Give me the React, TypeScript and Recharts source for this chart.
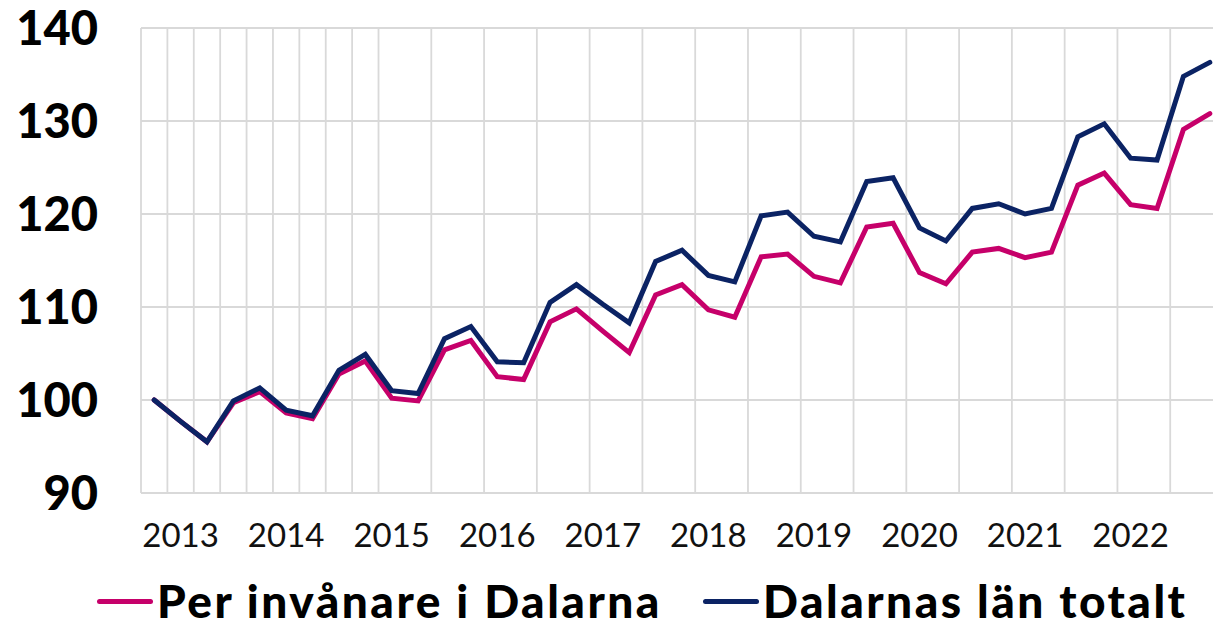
import React from "react";
import { LineChart, Line, XAxis, YAxis, CartesianGrid } from "recharts";

// quarters shown on the x axis (one point per quarter)
const quarters = [
  "2012 K4",
  "2013 K1", "2013 K2", "2013 K3", "2013 K4",
  "2014 K1", "2014 K2", "2014 K3", "2014 K4",
  "2015 K1", "2015 K2", "2015 K3", "2015 K4",
  "2016 K1", "2016 K2", "2016 K3", "2016 K4",
  "2017 K1", "2017 K2", "2017 K3", "2017 K4",
  "2018 K1", "2018 K2", "2018 K3", "2018 K4",
  "2019 K1", "2019 K2", "2019 K3", "2019 K4",
  "2020 K1", "2020 K2", "2020 K3", "2020 K4",
  "2021 K1", "2021 K2", "2021 K3", "2021 K4",
  "2022 K1", "2022 K2", "2022 K3", "2022 K4",
];

const years = ["2013", "2014", "2015", "2016", "2017", "2018", "2019", "2020", "2021", "2022"];

// index, 100 = start
const perInvanare = [
  100, 97.7, 95.5, 99.7, 100.9, 98.6, 98.0, 102.8, 104.2, 100.2,
  99.9, 105.4, 106.4, 102.5, 102.2, 108.4, 109.8, 107.4, 105.1, 111.3,
  112.4, 109.7, 108.9, 115.4, 115.7, 113.3, 112.6, 118.6, 119.0, 113.7,
  112.5, 115.9, 116.3, 115.3, 115.9, 123.1, 124.4, 121.0, 120.6, 129.1,
  130.8,
];

const lanTotalt = [
  100, 97.7, 95.5, 99.9, 101.3, 98.9, 98.3, 103.2, 104.9, 101.0,
  100.7, 106.6, 107.9, 104.1, 104.0, 110.5, 112.4, 110.3, 108.3, 114.9,
  116.1, 113.4, 112.7, 119.8, 120.2, 117.6, 117.0, 123.5, 123.9, 118.5,
  117.1, 120.6, 121.1, 120.0, 120.6, 128.3, 129.7, 126.0, 125.8, 134.8,
  136.3,
];

const yTicks = [90, 100, 110, 120, 130, 140];

const PINK = "#c6006a";
const NAVY = "#0b2364";

const data = quarters.map((q, i) => ({
  idx: i,
  quarter: q,
  per: perInvanare[i],
  total: lanTotalt[i],
}));

// year label sits on the second point of each group of four
const yearTicks = years.map((_, k) => 1 + 4 * k);
// grid lines go between the quarters
const bandEdges = quarters.map((_, i) => i - 0.5).concat([quarters.length - 0.5]);

const legendItems = [
  { name: "Per invånare i Dalarna", color: PINK, left: 97 },
  { name: "Dalarnas län totalt", color: NAVY, left: 703 },
];

export default function App() {
  return (
    <div
      style={{
        position: "absolute",
        left: 0,
        top: 0,
        width: 1213,
        height: 630,
        overflow: "hidden",
        background: "#fff",
      }}
    >
      <LineChart
        width={1230}
        height={630}
        data={data}
        margin={{ top: 28, right: 7, bottom: 0, left: 0 }}
      >
        <CartesianGrid
          xAxisId="grid"
          stroke="#d9d9d9"
          strokeWidth={1.8}
          vertical
          horizontal
        />
        <XAxis
          xAxisId="grid"
          dataKey="idx"
          type="number"
          domain={[-0.5, quarters.length - 0.5]}
          ticks={bandEdges}
          allowDataOverflow
          hide
        />
        <XAxis
          dataKey="idx"
          type="number"
          domain={[-0.5, quarters.length - 0.5]}
          ticks={yearTicks}
          tickFormatter={(v: number) => years[(v - 1) / 4]}
          allowDataOverflow
          interval={0}
          height={137}
          axisLine={false}
          tickLine={false}
          tickSize={0}
          tickMargin={31}
          tick={{ fontFamily: "Lato", fontSize: 33, fill: "#111" }}
        />
        <YAxis
          domain={[90, 140]}
          ticks={yTicks}
          width={141}
          axisLine={false}
          tickLine={false}
          tickSize={0}
          tickMargin={43}
          tick={{ fontFamily: "Lato", fontSize: 47, fontWeight: 900, fill: "#000" }}
        />
        <Line
          dataKey="per"
          stroke={PINK}
          strokeWidth={5}
          dot={false}
          strokeLinecap="round"
          isAnimationActive={false}
        />
        <Line
          dataKey="total"
          stroke={NAVY}
          strokeWidth={5}
          dot={false}
          strokeLinecap="round"
          isAnimationActive={false}
        />
      </LineChart>
      {legendItems.map((item) => (
        <div
          key={item.name}
          style={{
            position: "absolute",
            left: item.left,
            top: 578,
            display: "flex",
            alignItems: "center",
            fontFamily: "Lato",
            fontWeight: 900,
            fontSize: 46,
            lineHeight: "46px",
            letterSpacing: "2.5px",
            color: "#000",
            whiteSpace: "nowrap",
          }}
        >
          <span
            style={{
              display: "inline-block",
              width: 56,
              height: 5,
              borderRadius: 3,
              background: item.color,
              marginRight: 4,
            }}
          />
          <span>{item.name}</span>
        </div>
      ))}
    </div>
  );
}
